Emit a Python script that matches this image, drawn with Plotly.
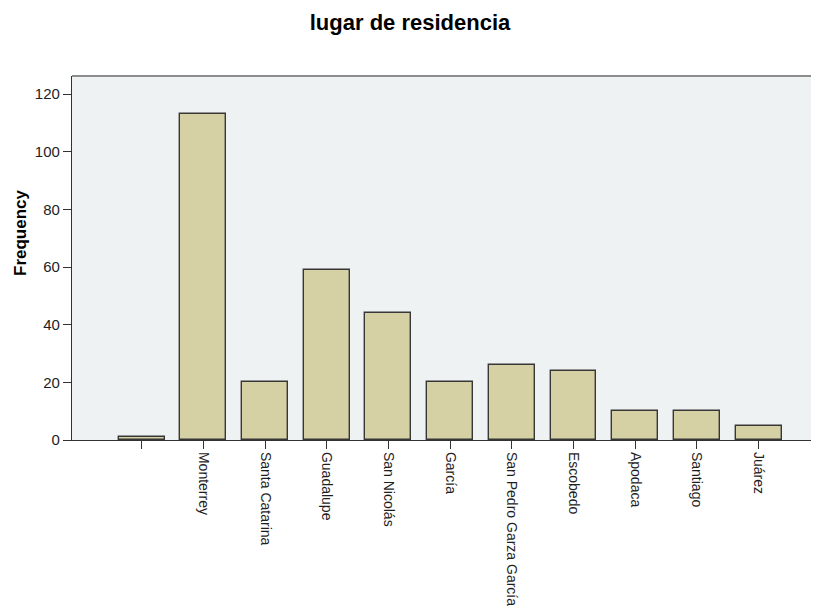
import plotly.graph_objects as go

categories = ["", "Monterrey", "Santa Catarina", "Guadalupe", "San Nicolás", "García",
              "San Pedro Garza García", "Escobedo", "Apodaca", "Santiago", "Juárez"]
frequency = [1, 113, 20, 59, 44, 20, 26, 24, 10, 10, 5]
y_ticks = [0, 20, 40, 60, 80, 100, 120]

positions = list(range(len(categories)))

# the page body adds an 8px margin, so the figure is 8px smaller and offset-compensated
OFF = 8
W, H = 819 - OFF, 610 - OFF
L, R, T, B = 72 - OFF, 0, 76 - OFF, 170

fig = go.Figure()
fig.add_trace(go.Bar(
    x=positions, y=frequency, width=0.745,
    marker=dict(color="rgb(214,209,165)", line=dict(color="rgb(55,55,55)", width=1.4)),
    hoverinfo="x+y",
))

fig.update_layout(
    width=W, height=H,
    margin=dict(l=L, r=R, t=T, b=B, autoexpand=False),
    paper_bgcolor="white",
    plot_bgcolor="rgb(239,242,243)",
    font=dict(family="Liberation Sans, Arial, sans-serif", color="rgb(30,30,30)"),
    title=dict(text="<b>lugar de residencia</b>", x=(410 - OFF) / W, xanchor="center",
               y=1 - (22 - OFF) / H, yanchor="middle", font=dict(size=22, color="black")),
    showlegend=False,
    bargap=0,
)

fig.update_xaxes(
    range=[-1.13, 10.98], automargin=False,
    tickmode="array", tickvals=positions, ticktext=categories,
    tickangle=90, tickfont=dict(size=14, color="rgb(30,30,30)"),
    ticks="outside", ticklen=8, tickwidth=1.3, tickcolor="rgb(50,50,50)",
    showline=True, linecolor="rgb(50,50,50)", linewidth=1.3,
    showgrid=False, zeroline=False,
)
fig.update_yaxes(
    range=[0, 126.3], automargin=False,
    tickmode="array", tickvals=y_ticks,
    tickfont=dict(size=15, color="rgb(30,30,30)"),
    ticks="outside", ticklen=8, tickwidth=1.3, tickcolor="rgb(50,50,50)",
    showline=True, linecolor="rgb(50,50,50)", linewidth=1.3,
    showgrid=False, zeroline=False,
)

# y-axis title placed as in the reference
fig.add_annotation(text="<b>Frequency</b>", xref="paper", yref="paper",
                   x=(20 - OFF - L) / (W - L - R), y=(H - B - (232 - OFF)) / (H - T - B),
                   xanchor="center", yanchor="middle", textangle=-90,
                   showarrow=False, font=dict(size=17, color="black"))

# top border of the plot area
fig.add_shape(type="line", xref="paper", yref="paper", x0=0, x1=1, y0=1, y1=1,
              line=dict(color="rgb(140,140,140)", width=2.2))

fig.write_html("out.html",
               post_script="document.documentElement.style.overflow='hidden';"
                           "document.body.style.overflow='hidden';")
